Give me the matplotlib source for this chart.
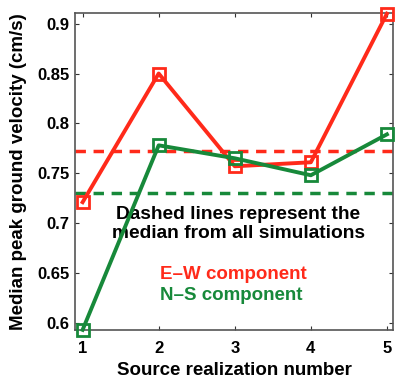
import matplotlib
matplotlib.use('Agg')
import matplotlib.pyplot as plt
import numpy as np

plt.rcParams['font.family'] = ['Liberation Sans', 'DejaVu Sans']
plt.rcParams['font.weight'] = 'bold'

realization = [1, 2, 3, 4, 5]
ew_pgv = [0.721, 0.850, 0.757, 0.761, 0.910]  ## E-W component
ns_pgv = [0.593, 0.778, 0.765, 0.748, 0.789]  ## N-S component
ew_median = 0.772
ns_median = 0.730

red = '#ff2a1a'
green = '#17893a'

fig = plt.figure(figsize=(4.0, 3.84), dpi=100)
ax = fig.add_axes([0.1875, 0.141, 0.795, 0.826])

ax.axhline(ew_median, color=red, lw=2.5, ls=(0, (3, 2.2)))
ax.axhline(ns_median, color=green, lw=2.5, ls=(0, (3, 2.2)))
ax.plot(realization, ew_pgv, color=red, lw=2.8, marker='s', ms=9,
        mfc='none', mew=2, clip_on=False, zorder=3)
ax.plot(realization, ns_pgv, color=green, lw=2.8, marker='s', ms=9,
        mfc='none', mew=2, clip_on=False, zorder=4)

ax.set_xlim(0.9, 5.08)
ax.set_ylim(0.593, 0.911)
ax.set_xticks(realization)
ax.set_yticks([0.6, 0.65, 0.7, 0.75, 0.8, 0.85, 0.9])
ax.set_yticklabels(['0.6', '0.65', '0.7', '0.75', '0.8', '0.85', '0.9'])
ax.tick_params(direction='in', top=True, right=True, labelsize=12,
               length=3, color='#333333')
ax.tick_params(axis='y', pad=4)
ax.tick_params(axis='x', pad=8)
for sp in ax.spines.values():
    sp.set_color('#555555')
    sp.set_linewidth(1.2)

ax.set_xlabel('Source realization number', fontsize=13.5, fontweight='bold', labelpad=4)
ax.set_ylabel('Median peak ground velocity (cm/s)', fontsize=13.5, fontweight='bold', labelpad=7)

ax.text(0.513, 0.334, 'Dashed lines represent the\nmedian from all simulations',
        transform=ax.transAxes, ha='center', va='center', fontsize=13.8,
        fontweight='bold', linespacing=1.1)
ax.text(0.267, 0.173, 'E\u2013W component', transform=ax.transAxes, color=red,
        fontsize=13.5, fontweight='bold', va='center')
ax.text(0.267, 0.108, 'N\u2013S component', transform=ax.transAxes, color=green,
        fontsize=13.5, fontweight='bold', va='center')

fig.savefig('out.png', dpi=100)
